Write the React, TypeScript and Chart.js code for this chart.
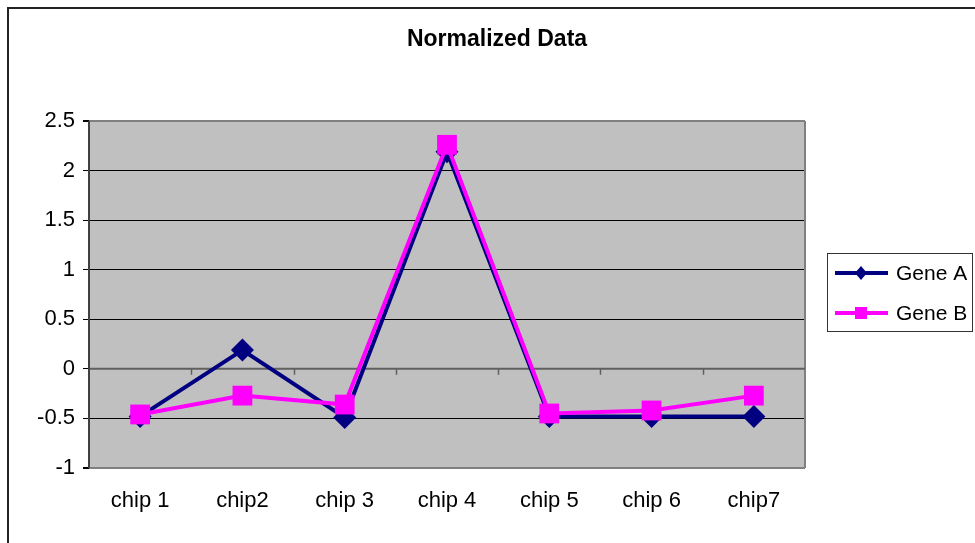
import React, { useEffect, useRef } from "react";
import { Chart, registerables } from "chart.js";

Chart.register(...registerables);

const categories = ["chip 1", "chip2", "chip 3", "chip 4", "chip 5", "chip 6", "chip7"];
const geneA = [-0.48, 0.19, -0.49, 2.19, -0.48, -0.48, -0.48];
const geneB = [-0.46, -0.27, -0.36, 2.26, -0.45, -0.42, -0.27];
const seriesNames = ["Gene A", "Gene B"];
const chartTitle = "Normalized Data";

const NAVY = "#000080";
const MAGENTA = "#FF00FF";
const FONT = "'Liberation Sans', Arial, sans-serif";

// Draws the page frame, grey plot background, title, category tick marks and legend.
const decorations = {
  id: "decorations",
  beforeDraw(chart: any) {
    const { ctx, chartArea } = chart;
    ctx.save();
    ctx.fillStyle = "#ffffff";
    ctx.fillRect(0, 0, chart.width, chart.height);
    // outer frame
    ctx.strokeStyle = "#222222";
    ctx.lineWidth = 2;
    ctx.beginPath();
    ctx.moveTo(8, chart.height + 5);
    ctx.lineTo(8, 8);
    ctx.lineTo(chart.width + 5, 8);
    ctx.stroke();
    // plot background
    ctx.fillStyle = "#C0C0C0";
    ctx.fillRect(chartArea.left, chartArea.top, chartArea.right - chartArea.left, chartArea.bottom - chartArea.top);
    ctx.restore();
  },
  beforeDatasetsDraw(chart: any) {
    const { ctx, chartArea, scales } = chart;
    ctx.save();
    // right plot border
    ctx.strokeStyle = "#808080";
    ctx.lineWidth = 2;
    ctx.beginPath();
    ctx.moveTo(chartArea.right, chartArea.top);
    ctx.lineTo(chartArea.right, chartArea.bottom);
    ctx.stroke();
    // category axis along zero with tick marks between categories
    const y0 = scales.y.getPixelForValue(0);
    ctx.strokeStyle = "#606060";
    ctx.lineWidth = 2;
    ctx.beginPath();
    ctx.moveTo(chartArea.left, y0);
    ctx.lineTo(chartArea.right, y0);
    ctx.stroke();
    const step = (chartArea.right - chartArea.left) / categories.length;
    ctx.lineWidth = 1.5;
    ctx.beginPath();
    for (let i = 1; i < categories.length; i++) {
      const x = Math.round(chartArea.left + step * i) + 0.5;
      ctx.moveTo(x, y0);
      ctx.lineTo(x, y0 + 6);
    }
    ctx.stroke();
    // left axis line
    ctx.strokeStyle = "#404040";
    ctx.lineWidth = 2;
    ctx.beginPath();
    ctx.moveTo(chartArea.left, chartArea.top);
    ctx.lineTo(chartArea.left, chartArea.bottom);
    ctx.stroke();
    ctx.restore();
  },
  afterDraw(chart: any) {
    const { ctx } = chart;
    ctx.save();
    // title
    ctx.fillStyle = "#000000";
    ctx.font = `bold 23px ${FONT}`;
    ctx.textAlign = "center";
    ctx.textBaseline = "middle";
    ctx.fillText(chartTitle, 497, 40);
    // legend box
    ctx.strokeStyle = "#333333";
    ctx.lineWidth = 1;
    ctx.strokeRect(827.5, 253.5, 145, 78);
    const colors = [NAVY, MAGENTA];
    const rows = [273, 313];
    ctx.font = `21px ${FONT}`;
    ctx.textAlign = "left";
    for (let i = 0; i < 2; i++) {
      const y = rows[i];
      ctx.strokeStyle = colors[i];
      ctx.lineWidth = 4;
      ctx.beginPath();
      ctx.moveTo(835, y);
      ctx.lineTo(888, y);
      ctx.stroke();
      ctx.fillStyle = colors[i];
      ctx.beginPath();
      if (i === 0) {
        ctx.moveTo(861, y - 7);
        ctx.lineTo(867, y);
        ctx.lineTo(861, y + 7);
        ctx.lineTo(855, y);
        ctx.closePath();
      } else {
        ctx.rect(855, y - 6, 12, 12);
      }
      ctx.fill();
      ctx.fillStyle = "#000000";
      ctx.fillText(seriesNames[i], 896, y + 1);
    }
    ctx.restore();
  },
};

export default function App() {
  const ref = useRef<HTMLCanvasElement>(null);

  useEffect(() => {
    const canvas = ref.current;
    if (!canvas) return;
    const gridColor = (c: any) => {
      const v = c.tick?.value;
      if (v === 2.5 || v === -1) return "#808080";
      if (v === 0) return "rgba(0,0,0,0)";
      return "#000000";
    };
    const chart = new Chart(canvas, {
      type: "line",
      data: {
        labels: categories,
        datasets: [
          {
            label: seriesNames[0],
            data: geneA,
            borderColor: NAVY,
            backgroundColor: NAVY,
            borderWidth: 4,
            pointStyle: "rectRot",
            pointRadius: 11.5,
            pointBorderWidth: 0,
            tension: 0,
            order: 1,
          },
          {
            label: seriesNames[1],
            data: geneB,
            borderColor: MAGENTA,
            backgroundColor: MAGENTA,
            borderWidth: 4,
            pointStyle: "rect",
            pointRadius: 14,
            pointBorderWidth: 0,
            tension: 0,
            order: 0,
          },
        ],
      },
      options: {
        responsive: false,
        animation: false,
        layout: { padding: { top: 121, right: 170, left: 0, bottom: 0 } },
        plugins: {
          legend: { display: false },
          title: { display: false },
          tooltip: { enabled: false },
        },
        scales: {
          x: {
            type: "category",
            offset: true,
            grid: { display: false },
            border: { display: false },
            ticks: {
              color: "#000000",
              font: { family: FONT, size: 22 },
              padding: 12,
              maxRotation: 0,
            },
            afterFit: (s: any) => {
              s.height = 75;
            },
          },
          y: {
            min: -1,
            max: 2.5,
            ticks: {
              stepSize: 0.5,
              color: "#000000",
              font: { family: FONT, size: 22 },
              padding: 8,
              callback: (v: any) => String(Number(v)),
            },
            grid: {
              color: gridColor,
              lineWidth: (c: any) => (c.tick?.value === 2.5 || c.tick?.value === -1 ? 2 : 1),
              tickColor: "#000000",
              tickLength: 6,
              drawTicks: true,
            },
            border: { display: false },
            afterFit: (s: any) => {
              s.width = 89;
            },
          },
        },
      },
      plugins: [decorations],
    });
    return () => chart.destroy();
  }, []);

  return (
    <div style={{ position: "absolute", left: 0, top: 0, width: 975, height: 543 }}>
      <canvas ref={ref} width={975} height={543} style={{ display: "block" }} />
    </div>
  );
}
